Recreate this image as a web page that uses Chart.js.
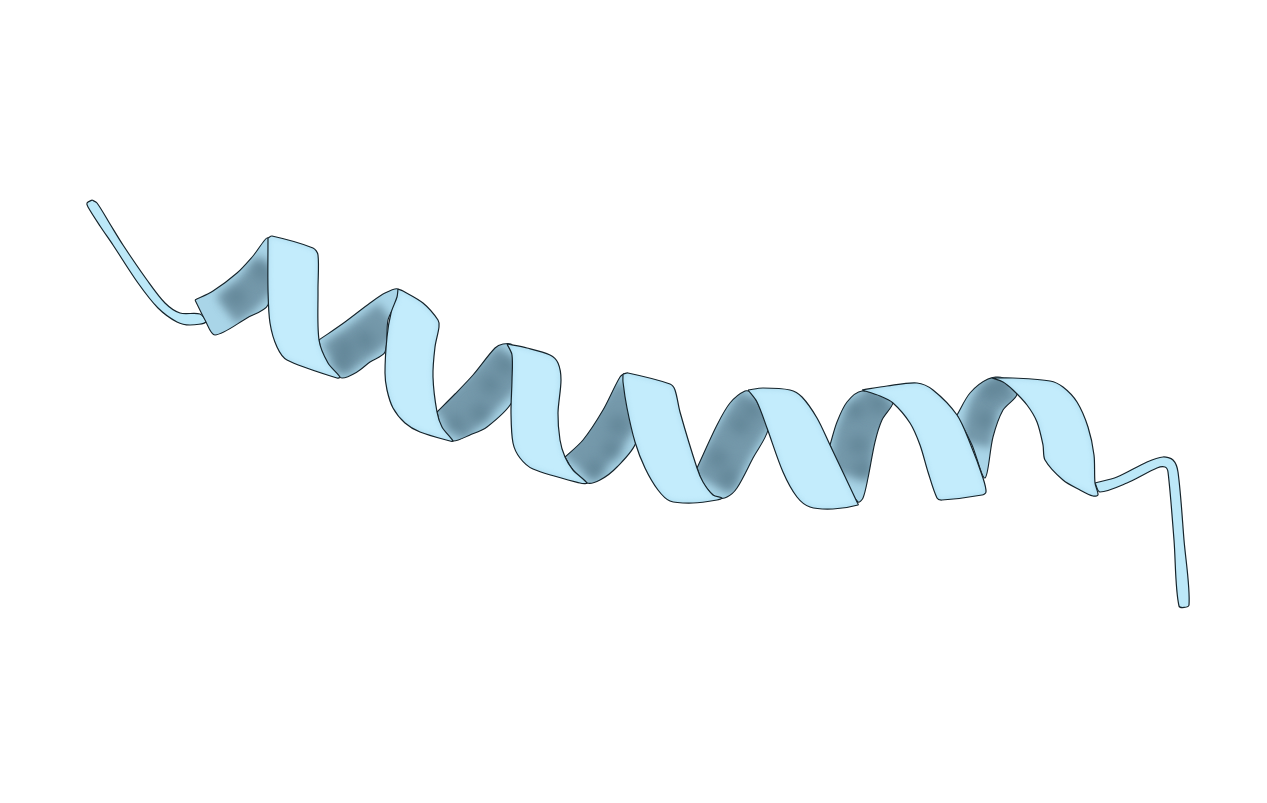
<!DOCTYPE html>
<html>
<head>
<meta charset="utf-8">
<title>Helix</title>
<script src="https://cdn.jsdelivr.net/npm/chart.js@4"></script>
<style>
  html, body { margin: 0; padding: 0; background: #fff; }
  canvas { display: block; }
</style>
</head>
<body>
<canvas id="helix" width="1267" height="803"></canvas>
<script>
// outlines, in picture units
const coilStart = [[92,200],[97,203],[110,224],[123,245],[147,280],[165,303],[180,313],[200,314],[206,322],[190,325],[177,322],[158,308],[138,283],[113,245],[100,226],[88,207],[87,203]];
const coilEnd = [[1095,483],[1117,477],[1147,462],[1163,457],[1173,460],[1178,472],[1184,540],[1189,605],[1179,606],[1174,540],[1168,472],[1165,467],[1157,468],[1127,483],[1100,492]];

const back1 = [[195,300],[213,291],[237,273],[253,256],[268,238],[270,270],[268,305],[247,318],[215,335],[205,320]];
const back2 = [[319,340],[345,322],[370,303],[385,293],[398,289],[397,300],[388,320],[385,352],[370,362],[357,372],[342,378],[330,370],[322,355]];
const back3 = [[437,412],[455,394],[473,375],[495,348],[503,344],[512,345],[515,375],[512,402],[487,427],[470,435],[453,441],[443,433]];
const back4 = [[565,457],[583,440],[603,410],[620,377],[625,374],[630,413],[636,442],[617,467],[600,480],[587,483],[573,470]];
const back5 = [[697,468],[717,425],[730,403],[745,391],[752,393],[763,415],[768,430],[753,458],[737,488],[727,497],[717,498],[703,483]];
const back6 = [[830,445],[837,422],[847,402],[862,391],[887,398],[893,403],[882,420],[875,442],[868,478],[863,498],[858,502],[843,478]];
const back7 = [[957,415],[970,393],[988,379],[1003,378],[1017,394],[1003,410],[993,437],[985,478],[972,445]];

const front1 = [[268,238],[272,236],[313,248],[318,255],[318,290],[319,340],[328,363],[340,377],[337,378],[287,360],[277,347],[270,323],[268,290]];
const front2 = [[398,289],[403,291],[423,303],[438,320],[439,327],[435,347],[433,377],[437,412],[442,427],[453,441],[450,441],[420,432],[405,423],[393,408],[387,390],[385,373],[387,337],[391,313],[397,297]];
const front3 = [[507,344],[527,348],[550,355],[558,363],[561,380],[558,413],[560,440],[565,457],[573,470],[587,483],[580,483],[533,469],[520,458],[513,443],[511,413],[512,380],[512,355]];
const front4 = [[623,374],[628,373],[670,384],[675,390],[680,412],[697,468],[703,482],[713,495],[722,498],[717,500],[693,503],[670,501],[658,490],[645,468],[635,442],[627,408],[623,382]];
const front5 = [[748,390],[763,388],[790,390],[802,397],[817,418],[830,445],[857,502],[858,505],[833,509],[810,507],[797,497],[783,472],[767,428],[757,402]];
const front6 = [[862,390],[887,386],[917,383],[933,390],[957,415],[970,443],[983,478],[986,492],[982,495],[942,500],[937,498],[928,472],[920,445],[910,423],[893,403],[880,396]];
const front7 = [[992,378],[1013,378],[1050,381],[1063,387],[1077,402],[1088,427],[1094,455],[1095,483],[1098,495],[1093,496],[1080,490],[1063,480],[1045,460],[1043,445],[1037,422],[1027,405],[1013,390],[1003,382]];

// shaded middle of each inner face
const spines = [
  [[226,310],[245,296],[270,268]],
  [[332,360],[355,345],[390,318]],
  [[448,425],[480,395],[514,360]],
  [[578,468],[605,435],[634,392]],
  [[712,484],[735,440],[759,402]],
  [[850,476],[858,430],[886,398]],
  [[976,445],[985,405],[1010,386]]
];
const spineWidths = [34, 38, 44, 42, 44, 42, 30];
const blotches = [
  [[236,297],[262,270]],
  [[342,362],[365,340],[345,348]],
  [[455,425],[480,413],[490,385],[505,365]],
  [[595,470],[618,425],[612,450]],
  [[718,458],[740,425],[752,410],[728,478]],
  [[855,410],[878,404],[858,445],[862,470]],
  [[990,390],[1002,385],[985,420]]
];

const backs = [back1, back2, back3, back4, back5, back6, back7];
const fronts = [front1, front2, front3, front4, front5, front6, front7];

const INK = '#16242b';
const closed = pts => pts.concat([pts[0]]);

function outline(pts, fill) {
  return { data: closed(pts), shapeFill: fill, borderColor: INK, borderWidth: 1.2, showLine: true, pointRadius: 0, tension: 0.3 };
}

let datasets = [];
datasets.push(outline(coilStart, '#bce8f8'));
datasets.push(outline(coilEnd, '#bce8f8'));

backs.forEach(function(pts, i) {
  const base = { data: closed(pts), shapeFill: '#a9d5e8', borderWidth: 0, showLine: true, pointRadius: 0, tension: 0.3 };
  datasets.push(base);
  datasets.push({ data: spines[i], clipTo: base, blur: 4, borderColor: '#7599ab', borderWidth: spineWidths[i], showLine: true, pointRadius: 0, tension: 0.3 });
  datasets.push({ data: blotches[i], clipTo: base, blur: 7, backgroundColor: '#5f8294', borderWidth: 0, pointRadius: 9, showLine: false });
  datasets.push({ data: closed(pts), borderColor: INK, borderWidth: 1.1, showLine: true, pointRadius: 0, tension: 0.3 });
});

fronts.forEach(function(pts) {
  const base = { data: closed(pts), shapeFill: '#c3ecfc', borderWidth: 0, showLine: true, pointRadius: 0, tension: 0.3 };
  datasets.push(base);
  datasets.push({ data: closed(pts), clipTo: base, blur: 2, borderColor: '#aedcf0', borderWidth: 3, showLine: true, pointRadius: 0, tension: 0.3 });
  datasets.push({ data: closed(pts), borderColor: INK, borderWidth: 1.2, showLine: true, pointRadius: 0, tension: 0.3 });
});

// first dataset has to be painted first
datasets.forEach(function(d, i) { d.order = -i; });

function tracePath(chart, ds) {
  const line = chart.getDatasetMeta(chart.data.datasets.indexOf(ds)).dataset;
  line.updateControlPoints(chart.chartArea, 'x');
  chart.ctx.beginPath();
  line.path(chart.ctx);
  chart.ctx.closePath();
}

const ribbonPlugin = {
  id: 'ribbon',
  beforeDatasetDraw(chart, args) {
    const ds = chart.data.datasets[args.index];
    const ctx = chart.ctx;
    ctx.save();
    if (ds.shapeFill) {
      tracePath(chart, ds);
      ctx.fillStyle = ds.shapeFill;
      ctx.fill();
    }
    if (ds.clipTo) {
      tracePath(chart, ds.clipTo);
      ctx.clip();
    }
    if (ds.blur) ctx.filter = 'blur(' + ds.blur + 'px)';
  },
  afterDatasetDraw(chart) {
    chart.ctx.restore();
  }
};

new Chart(document.getElementById('helix').getContext('2d'), {
  type: 'scatter',
  data: { datasets: datasets },
  options: {
    responsive: false,
    animation: false,
    events: [],
    layout: { padding: 0, autoPadding: false },
    plugins: { legend: { display: false }, tooltip: { enabled: false } },
    scales: {
      x: { type: 'linear', min: 0, max: 1267, display: false },
      y: { type: 'linear', min: 0, max: 803, reverse: true, display: false }
    }
  },
  plugins: [ribbonPlugin]
});
</script>
</body>
</html>
